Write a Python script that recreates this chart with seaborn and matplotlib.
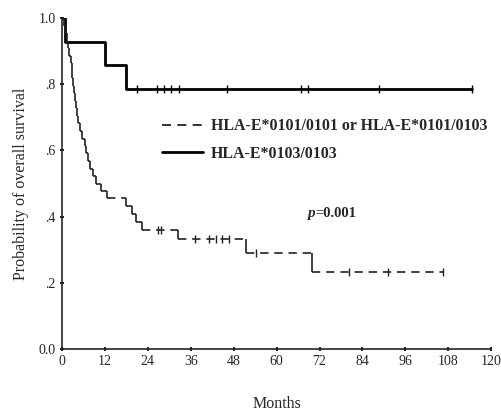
import numpy as np
import matplotlib
matplotlib.use("Agg")
import matplotlib.pyplot as plt
from matplotlib.lines import Line2D
import seaborn as sns

# Kaplan-Meier curves (months, survival)
# HLA-E*0101/0101 or HLA-E*0101/0103 (dashed)
dash_times = [0, 0.6, 1.0, 1.4, 1.7, 2.0, 2.4, 2.7, 2.9, 3.1, 3.3, 3.5, 3.8, 4.2, 4.6,
              5.0, 5.6, 6.3, 6.8, 7.2, 7.8, 8.6, 9.6, 10.8, 12.6, 18.0, 19.5, 20.8,
              22.3, 32.4, 51.5, 70.0, 106.6]
dash_surv = [1.0, 0.977, 0.955, 0.932, 0.909, 0.886, 0.864, 0.841, 0.818, 0.795, 0.773,
             0.750, 0.727, 0.705, 0.682, 0.659, 0.636, 0.614, 0.591, 0.568, 0.545, 0.523,
             0.500, 0.477, 0.456, 0.432, 0.408, 0.384, 0.360, 0.332, 0.290, 0.233, 0.233]
dash_cens_t = [26.9, 27.8, 37.1, 41.2, 43.0, 44.8, 46.7, 54.3, 80.2, 91.1, 106.6]
dash_cens_s = [0.360, 0.360, 0.332, 0.332, 0.332, 0.332, 0.332, 0.290, 0.233, 0.233, 0.233]

# HLA-E*0103/0103 (solid)
solid_times = [0, 0.8, 12.0, 17.9, 114.5]
solid_surv = [1.0, 0.929, 0.857, 0.786, 0.786]
solid_cens_t = [21.0, 26.7, 28.6, 30.6, 32.6, 46.0, 66.9, 68.7, 88.6, 114.5]
solid_cens_s = [0.786] * len(solid_cens_t)

labels = ["HLA-E*0101/0101 or HLA-E*0101/0103", "HLA-E*0103/0103"]
x_ticks = list(range(0, 121, 12))
y_ticks = [0.0, 0.2, 0.4, 0.6, 0.8, 1.0]
y_ticklabels = ["0.0", ".2", ".4", ".6", ".8", "1.0"]

sns.set_style("ticks")
plt.rcParams["font.family"] = ["Liberation Serif", "DejaVu Serif"]

fig = plt.figure(figsize=(5.02, 4.11), dpi=100)
ax = fig.add_axes([0.1235, 0.151, 0.855, 0.805])

# solid curve
sns.lineplot(x=solid_times, y=solid_surv, drawstyle="steps-post", color="black",
             linewidth=2.0, ax=ax, estimator=None, sort=False)
ax.plot(solid_cens_t, solid_cens_s, linestyle="none", marker="|", color="black",
        markersize=6, markeredgewidth=1.0)

# dashed curve: each horizontal piece dashed on its own, drops drawn solid
ax.hlines(dash_surv[:-1], dash_times[:-1], dash_times[1:], colors="#222222",
          linewidth=1.2, linestyles=(0, (5, 3.5)))
ax.vlines(dash_times[1:-1], dash_surv[1:-1], dash_surv[:-2], colors="#222222",
          linewidth=1.2)
ax.plot(dash_cens_t, dash_cens_s, linestyle="none", marker="|", color="#222222",
        markersize=6, markeredgewidth=1.0)

ax.set_xlim(0, 120)
ax.set_ylim(0, 1.0)
ax.set_xticks(x_ticks)
ax.set_yticks(y_ticks)
ax.set_yticklabels(y_ticklabels)
ax.tick_params(length=3, width=1.5, labelsize=10, pad=3, direction="inout")
for s in ["left", "bottom"]:
    ax.spines[s].set_linewidth(1.2)
sns.despine(ax=ax)

ax.set_xlabel("Months", fontsize=11.5, labelpad=20)
ax.set_ylabel("Probability of overall survival", fontsize=11.5, labelpad=7)

handles = [Line2D([], [], color="#222222", linewidth=1.3, linestyle=(0, (5, 3.5))),
           Line2D([], [], color="black", linewidth=2.0)]
ax.legend(handles, labels, loc="upper left", bbox_to_anchor=(0.232, 0.697),
          frameon=False, borderpad=0, borderaxespad=0, handlelength=2.6,
          handletextpad=0.5, labelspacing=0.72,
          prop={"family": "Liberation Serif", "weight": "bold", "size": 11.4})

ax.text(68.5, 0.41, "p", fontsize=11, style="italic", fontweight="bold",
        va="center", ha="left")
ax.text(70.9, 0.41, "=0.001", fontsize=10.5, fontweight="bold", va="center", ha="left")

fig.savefig("out.png", dpi=100)
